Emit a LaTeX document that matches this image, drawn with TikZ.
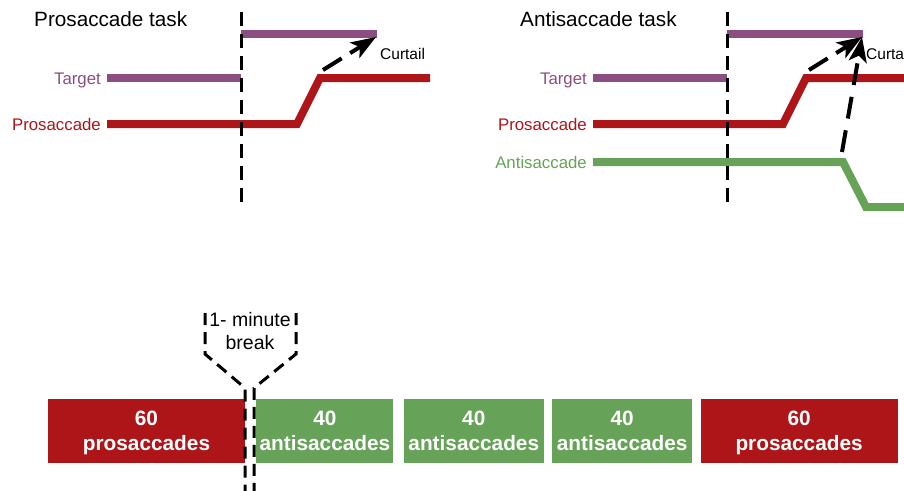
\documentclass[tikz,border=0pt]{standalone}
\usepackage{fontspec}
\setmainfont{Liberation Sans}
\usetikzlibrary{arrows.meta,positioning}
\definecolor{tgtpurple}{HTML}{8A4F80}
\definecolor{prored}{HTML}{AD1519}
\definecolor{antigreen}{HTML}{66A358}

\begin{document}
\begin{tikzpicture}[x=1pt,y=-1pt,
                    task title/.style={anchor=west,inner sep=0pt,text height=15pt,text depth=0pt,
                                       font=\fontsize{20.7}{24}\selectfont},
                    trace name/.style={anchor=east,inner xsep=6pt,inner ysep=0pt,text height=12pt,
                                       text depth=0pt,font=\fontsize{16.8}{20}\selectfont},
                    curtail label/.style={anchor=west,inner sep=0pt,text height=11pt,text depth=0pt,
                                          font=\fontsize{15.5}{18}\selectfont},
                    trace/.style={line width=8pt},
                    onset/.style={line width=3pt,dash pattern=on 14pt off 8pt},
                    curtail/.style={-{Stealth[length=25pt,width=18pt,inset=6pt]},line width=4pt,
                                    dash pattern=on 22pt off 10pt},
                    block/.style={minimum width=140pt,minimum height=64pt,inner sep=0pt,text depth=0pt,
                                  text=white,align=center,font=\fontsize{20.8}{25}\selectfont\bfseries},
                    break text/.style={align=center,inner sep=0pt,font=\fontsize{19.5}{23}\selectfont}]
  \clip (0,0) rectangle (904,490);

  % antisaccade trace (under the onset line)
  \node[trace name,text=antigreen] (antisac) at (593,162) {Antisaccade};
  \coordinate (anti turn) at (843,162);
  \coordinate (anti away) at (866,207);
  \coordinate (anti far) at (912,207);
  \coordinate (anti rise) at (842,152);
  \coordinate (anti hit) at (862,37);
  \draw[trace,antigreen] (antisac.east) -- (anti turn) -- (anti away) -- (anti far);

  % both task panels
  \foreach \task/\tasktext/\dx in {pro/Prosaccade task/0,anti/Antisaccade task/486} {
    \begin{scope}[xshift=\dx pt]
      \node[task title] (\task title) at (34,19) {\tasktext};
      \node[trace name,text=tgtpurple] (\task tgt) at (107,78) {Target};
      \node[trace name,text=prored] (\task pro) at (107,124) {Prosaccade};
      \node[curtail label] (\task curtail) at (380,54) {Curtail};
      \coordinate (\task onset) at (241,78);
      \coordinate (\task top) at (241,12);
      \coordinate (\task bottom) at (241,208);
      \coordinate (\task jump) at (377,34);
      \coordinate (\task aim) at (376,37);
      \coordinate (\task start) at (297,124);
      \coordinate (\task land) at (320,78);
      \coordinate (\task end) at (430,78);
      \coordinate (\task lift) at (323,70);
      \draw[trace,tgtpurple] (\task tgt.east) -- (\task onset);
      \draw[trace,tgtpurple] (\task top |- \task jump) -- (\task jump);
      \draw[trace,prored] (\task pro.east) -- (\task start) -- (\task land) -- (\task end);
      \draw[onset] (\task top) -- (\task bottom);
      \draw[curtail] (\task lift) -- (\task aim);
    \end{scope}
  }
  \draw[curtail,dash pattern=on 22pt off 12pt] (anti rise) -- (anti hit);

  % session blocks
  \node[block,fill=prored,minimum width=197pt] (pro1) at (146.5,430.5) {60\\prosaccades};
  \node[block,fill=antigreen,minimum width=137pt,right=11pt of pro1] (anti1) {40\\antisaccades};
  \node[block,fill=antigreen,right=10pt of anti1] (anti2) {40\\antisaccades};
  \node[block,fill=antigreen,right=8pt of anti2] (anti3) {40\\antisaccades};
  \node[block,fill=prored,minimum width=197pt,right=8pt of anti3] (pro2) {60\\prosaccades};

  % break
  \node[break text] (brk) at (250,331) {1- minute\\break};
  \coordinate (brkL top) at (205,313);
  \coordinate (brkL knee) at (205,354);
  \coordinate (brkL tip) at (245,388);
  \coordinate (brkL foot) at (245,494);
  \coordinate (brkR top) at (296,313);
  \coordinate (brkR knee) at (296,354);
  \coordinate (brkR tip) at (254,388);
  \coordinate (brkR foot) at (254,494);
  \draw[onset,dash pattern=on 12pt off 7pt] (brkL top) -- (brkL knee) -- (brkL tip) -- (brkL foot);
  \draw[onset,dash pattern=on 12pt off 7pt] (brkR top) -- (brkR knee) -- (brkR tip) -- (brkR foot);
\end{tikzpicture}
\end{document}
